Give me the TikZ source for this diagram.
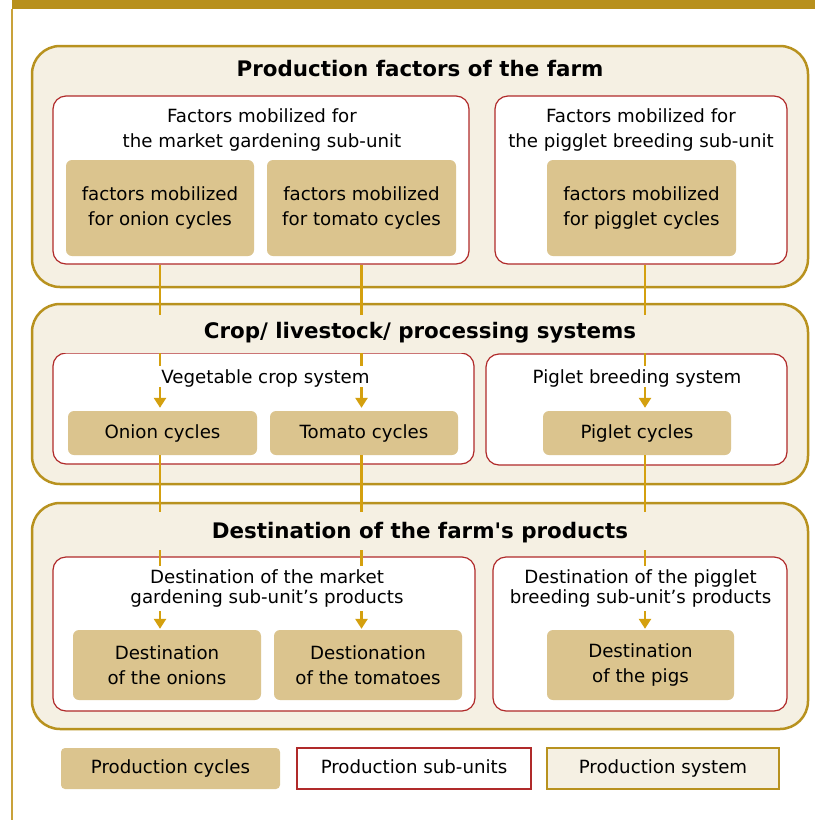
\documentclass[tikz,border=0pt]{standalone}
\usepackage{fontspec}
\setmainfont{DejaVu Sans}
\usetikzlibrary{arrows.meta, positioning}
\definecolor{bandgold}{HTML}{B8901C}
\definecolor{sysgold}{HTML}{B8921F}
\definecolor{edgegold}{HTML}{C9A23A}
\definecolor{cream}{HTML}{F5F0E3}
\definecolor{tan}{HTML}{DBC48E}
\definecolor{flowgold}{HTML}{D4A00F}
\definecolor{unitred}{HTML}{B02A2A}
\newcommand{\regfont}{\fontsize{18.2}{24.5}\selectfont}
\newcommand{\straightq}{\XeTeXglyph\XeTeXcharglyph"27\relax}

\begin{document}
\begin{tikzpicture}[x=1pt, y=-1pt,
  >={Triangle[length=10pt, width=12pt]},
  sysbox/.style={draw=sysgold, line width=2.5pt, fill=cream, rounded corners=28pt,
    minimum width=776pt, minimum height=#1, inner sep=0pt},
  unitbox/.style={draw=unitred, line width=1.2pt, fill=white, rounded corners=13pt, inner sep=0pt},
  cyclebox/.style={fill=tan, rounded corners=6pt, font=\regfont, align=center,
    minimum width=188pt, inner sep=0pt},
  systitle/.style={font=\fontsize{21.4}{26}\selectfont\bfseries, fill=cream,
    minimum width=740pt, inner sep=0pt, anchor=base},
  unittitle/.style={font=\regfont, fill=white, align=center, inner sep=0pt},
  flow/.style={->, draw=flowgold, line width=2.8pt},
  legbox/.style={font=\regfont, minimum height=41pt, inner sep=0pt,
    text height=13.8pt, text depth=4.3pt},
]

\useasboundingbox (0,0) rectangle (815,820);

% Top band and left rule
\fill[bandgold] (12,0) rectangle (815,9);
\draw[edgegold, line width=1.5pt] (12,9) -- (12,820);

% === Production factors ===
\node[sysbox=241pt] (factors) at (420,166.5) {};
\node[unitbox, minimum width=416pt, minimum height=168pt] (fveg) at (261,180) {};
\node[unitbox, minimum width=292pt, minimum height=168pt] (fpig) at (641,180) {};
\node[cyclebox, minimum height=96pt] (fonion) at (160,208) {factors mobilized\\for onion cycles};
\node[cyclebox, minimum width=189pt, minimum height=96pt] (ftomato) at (361.5,208) {factors mobilized\\for tomato cycles};
\node[cyclebox, minimum width=189pt, minimum height=96pt] (fpiglet) at (641.5,208) {factors mobilized\\for pigglet cycles};

% === Crop/ livestock/ processing systems ===
\node[sysbox=180pt] (systems) at (420,394) {};
\node[unitbox, minimum width=421pt, minimum height=111pt] (vegsys) at (263.5,408.5) {};
\node[unitbox, minimum width=301pt, minimum height=111pt] (pigsys) at (636.5,409.5) {};
\node[cyclebox, minimum width=189pt, minimum height=44pt] (onion) at (162.5,433) {Onion cycles};
\node[cyclebox, minimum height=44pt] (tomato) at (364,433) {Tomato cycles};
\node[cyclebox, minimum height=44pt] (piglet) at (637,433) {Piglet cycles};

% === Destination of the products ===
\node[sysbox=226pt] (dest) at (420,616) {};
\node[unitbox, minimum width=422pt, minimum height=154pt] (dveg) at (264,634) {};
\node[unitbox, minimum width=294pt, minimum height=154pt] (dpig) at (640,634) {};
\node[cyclebox, minimum height=70pt] (donions) at (167,665) {Destination\\of the onions};
\node[cyclebox, minimum height=70pt] (dtomatoes) at (368,665) {Destionation\\of the tomatoes};
\node[cyclebox, minimum width=187pt, minimum height=70pt] (dpigs) at (640.5,665) {Destination\\of the pigs};

% Flows
\draw[flow, shorten >=3pt] (fonion.south |- fveg.south) -- (fonion.south |- onion.north);
\draw[flow, shorten >=3pt] (ftomato.south |- fveg.south) -- (ftomato.south |- tomato.north);
\draw[flow, shorten >=3pt] ([xshift=3.5pt]fpiglet.south |- fpig.south) -- ([xshift=3.5pt]fpiglet.south |- piglet.north);
\draw[flow, shorten >=1pt] (fonion.south |- onion.south) -- (fonion.south |- donions.north);
\draw[flow, shorten >=1pt] (ftomato.south |- tomato.south) -- (ftomato.south |- dtomatoes.north);
\draw[flow, shorten >=1pt] ([xshift=3.5pt]fpiglet.south |- piglet.south) -- ([xshift=3.5pt]fpiglet.south |- dpigs.north);

% Titles
\node[systitle] (factorstitle) at (420,76) {Production factors of the farm};
\node[systitle, text height=23pt, text depth=15pt] (systemstitle) at (420,338) {Crop/ livestock/ processing systems};
\node[systitle, text height=26pt, text depth=12pt] (desttitle) at (420,538) {Destination of the farm\straightq s products};

\node[unittitle] (fvegtitle) at (262,130) {Factors mobilized for\\the market gardening sub-unit};
\node[unittitle] (fpigtitle) at (641,130) {Factors mobilized for\\the pigglet breeding sub-unit};
\node[unittitle, anchor=base, minimum width=400pt, text height=17pt, text depth=4pt] (vegsystitle) at (265.5,383) {Vegetable crop system};
\node[unittitle, anchor=base, minimum width=280pt, text height=17pt, text depth=4pt] (pigsystitle) at (637,383) {Piglet breeding system};
\node[unittitle, font=\fontsize{18.2}{19.5}\selectfont, minimum width=400pt, minimum height=45pt] (dvegtitle) at (267,588.5) {Destination of the market\\gardening sub-unit’s products};
\node[unittitle, font=\fontsize{18.2}{19.5}\selectfont, minimum width=280pt, minimum height=45pt] (dpigtitle) at (640.5,588.5) {Destination of the pigglet\\breeding sub-unit’s products};

% Legend
\node[legbox, fill=tan, rounded corners=4pt, minimum width=219pt] (legcycles) at (170.5,768.5) {Production cycles};
\node[legbox, draw=unitred, line width=1.2pt, fill=white, minimum width=234pt] (legunits) at (414,768.5) {Production sub-units};
\node[legbox, draw=sysgold, line width=2.5pt, fill=cream, minimum width=232pt] (legsystem) at (663,768.5) {Production system};

\end{tikzpicture}
\end{document}
